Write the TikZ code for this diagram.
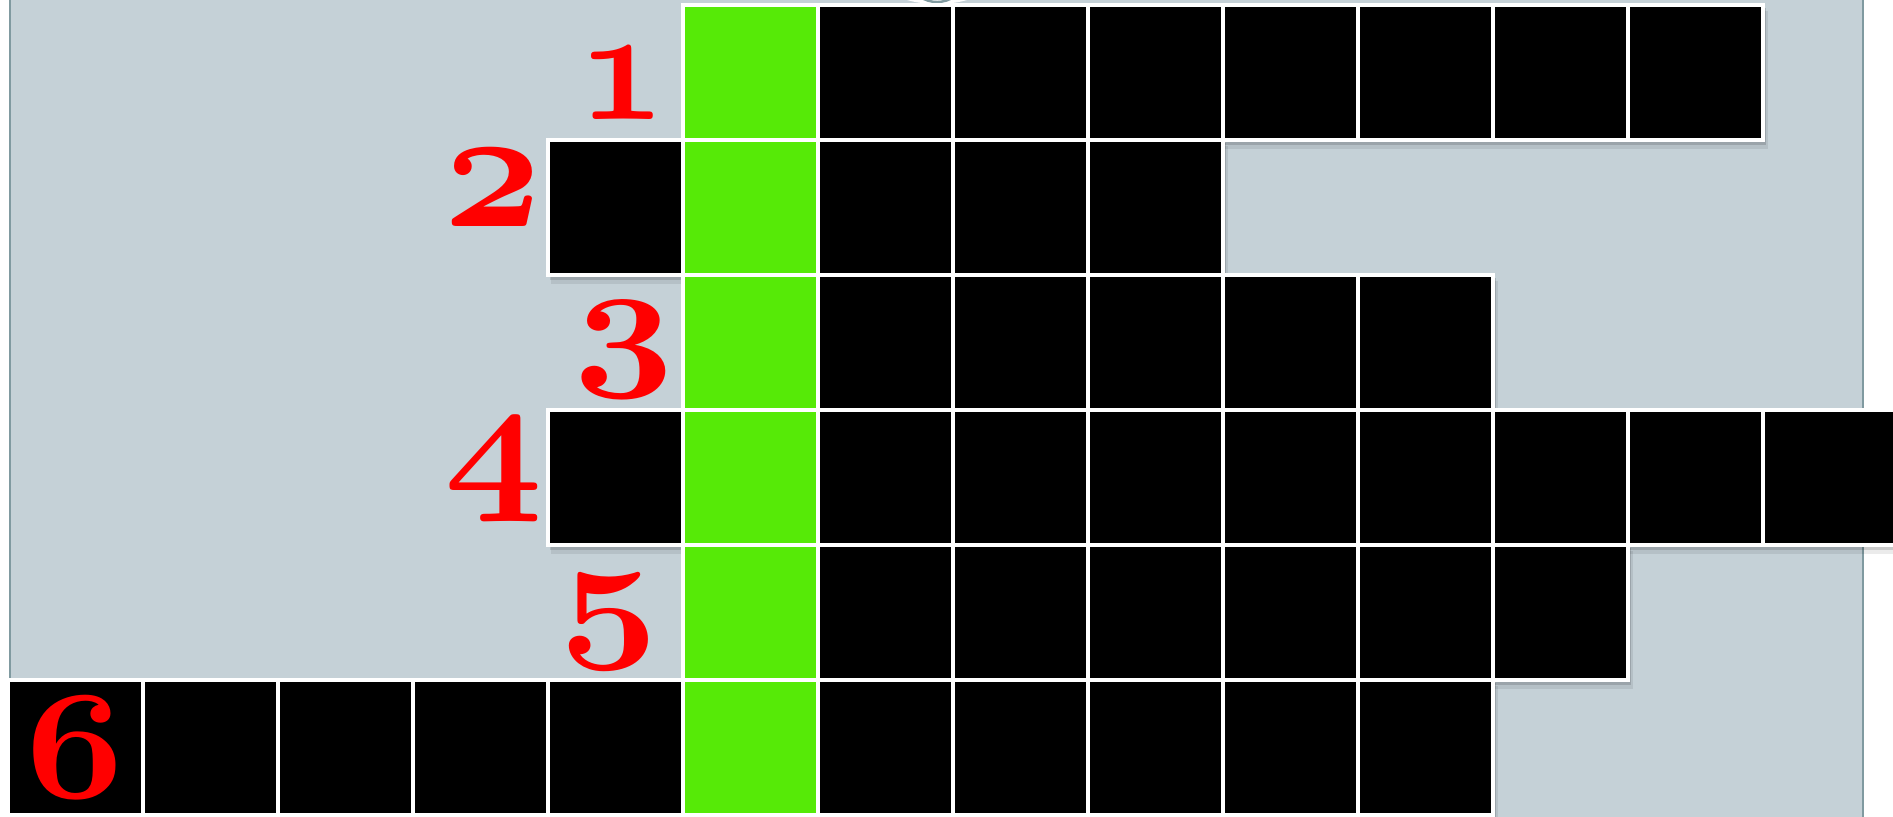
\documentclass[tikz,border=0pt]{standalone}
\usepackage{fontspec}
\DeclareFontFamily{OML}{osfdig}{}
\DeclareFontShape{OML}{osfdig}{b}{it}{<-> cmmib10}{}
\definecolor{bgc}{RGB}{197,209,215}
\definecolor{edgec}{RGB}{128,154,160}
\definecolor{grn}{RGB}{86,234,7}
\newcommand\labfont{\fontencoding{OML}\fontfamily{osfdig}\fontseries{b}\fontshape{it}\fontsize{86}{86}\selectfont}
\begin{document}
\begin{tikzpicture}[x=0.5pt,y=-0.5pt,
  cell/.style={draw=white, line width=2.25pt, fill=black, minimum size=67.5pt, inner sep=0pt, outer sep=0pt},
  gcell/.style={cell, fill=grn},
  lab/.style={text=red, inner sep=4pt, outer sep=0pt, font=\labfont},
  shad/.style={fill=black}]
\useasboundingbox (0,0) rectangle (1893,817);
% background panel
\fill[bgc] (9,-10) rectangle (1864,830);
\draw[edgec, line width=1pt] (10,-10) -- (10,830) (1863,-10) -- (1863,830);
% small handle at top
\fill[white] (937,-16) ellipse [x radius=50, y radius=20];
\draw[edgec, line width=1.2pt] (937,-16) ellipse [x radius=24, y radius=18];
% rows
\foreach \r/\a/\b in {0/5/12, 1/4/8, 2/5/10, 3/4/13, 4/5/11, 5/0/10} {
  \pgfmathsetmacro\xa{8+135*\a}
  \pgfmathsetmacro\xb{8+135*(\b+1)}
  \pgfmathsetmacro\ya{5+135*\r}
  \pgfmathsetmacro\yb{5+135*(\r+1)}
  \fill[shad, opacity=0.08] (\xa+3,\ya+6) rectangle (\xb+5,\yb+9);
  \fill[shad, opacity=0.14] (\xa+2,\ya+3) rectangle (\xb+3,\yb+5);
  \foreach \k in {\a,...,\b} {
    \ifnum\k=5 \def\sty{gcell}\else\def\sty{cell}\fi
    \node[\sty] (c\r-\k) at ({75.5+135*\k},{72.5+135*\r}) {};
  }
}
% labels
\node[lab] (l1) at (622,84) {\scalebox{0.88}[0.94]{1}};
\node[lab] (l2) at (493,188) {2};
\node[lab] (l3) at (624,350) {\scalebox{1.02}[0.87]{3}};
\node[lab] (l4) at (494,470) {\scalebox{1}[0.94]{4}};
\node[lab] (l5) at (609,622) {\scalebox{1}[0.86]{5}};
\node[lab] (l6) at (75,748) {\scalebox{1}[0.9]{6}};
\end{tikzpicture}
\end{document}
